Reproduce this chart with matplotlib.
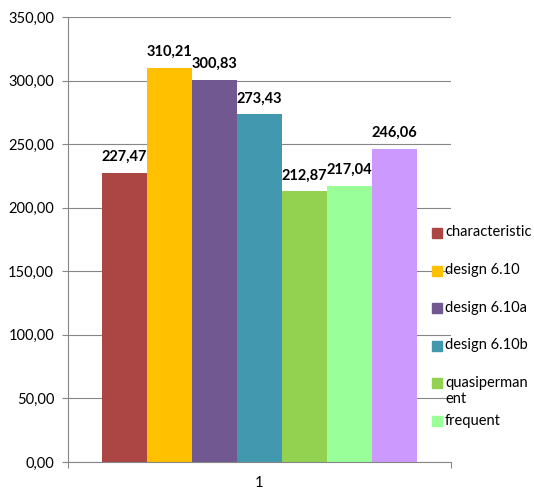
import matplotlib.pyplot as plt
from matplotlib.patches import Rectangle

# values
series = ['characteristic', 'design 6.10', 'design 6.10a', 'design 6.10b',
          'quasipermanent', 'frequent', '']
valores = [227.47, 310.21, 300.83, 273.43, 212.87, 217.04, 246.06]
colores = ['#AB4645', '#FFC000', '#715891', '#4198AF',
           '#93D150', '#99FF99', '#CC99FF']
legend_labels = ['characteristic', 'design 6.10', 'design 6.10a',
                 'design 6.10b', 'quasiperman\nent', 'frequent']
yticks = [0, 50, 100, 150, 200, 250, 300, 350]


def coma(v):
    return f'{v:.2f}'.replace('.', ',')


plt.rcParams['font.family'] = ['Lato', 'DejaVu Sans']

W, H = 534, 491
fig = plt.figure(figsize=(W / 100, H / 100), dpi=100)
ax = fig.add_axes([68 / W, (H - 462) / H, 383 / W, 445 / H])

n = len(valores)
ancho = 0.822 / n
for i, (v, c) in enumerate(zip(valores, colores)):
    x = 1 - 0.411 + ancho * (i + 0.5)
    b = ax.bar(x, v, width=ancho, color=c, zorder=2)
    ax.bar_label(b, labels=[coma(v)], padding=6.5, fontsize=10.5,
                 fontweight='bold', color='#000000')

ax.set_xlim(0.5, 1.5)
ax.set_ylim(0, 350)
ax.set_yticks(yticks)
ax.set_yticklabels([coma(t) for t in yticks], fontsize=10.5, color='#000000')
ax.set_xticks([1])
ax.set_xticklabels(['1'], fontsize=10.5)
ax.set_xticks([0.5, 1.5], minor=True)
ax.tick_params(axis='x', which='major', length=0, pad=10)
ax.tick_params(axis='x', which='minor', length=4, color='#868686', width=0.8)
ax.tick_params(axis='y', length=4, color='#868686', width=0.8, pad=6)
ax.grid(axis='y', color='#868686', linewidth=0.8, zorder=0)
ax.set_axisbelow(True)
for s in ['top', 'right']:
    ax.spines[s].set_visible(False)
for s in ['left', 'bottom']:
    ax.spines[s].set_color('#868686')
    ax.spines[s].set_linewidth(0.8)

# legend drawn by hand (Excel-style, text wraps without extra spacing)
y0 = 233
paso = 37.6
for i, lab in enumerate(legend_labels):
    yc = y0 + paso * i
    fig.add_artist(Rectangle((432 / W, (H - yc - 5) / H), 10 / W, 10 / H,
                             transform=fig.transFigure, color=colores[i],
                             zorder=5))
    fig.text(445 / W, (H - yc + 7.5) / H, lab, fontsize=10.5, va='top',
             ha='left', color='#000000', linespacing=1.2, zorder=5)

fig.savefig('out.png', dpi=100)
